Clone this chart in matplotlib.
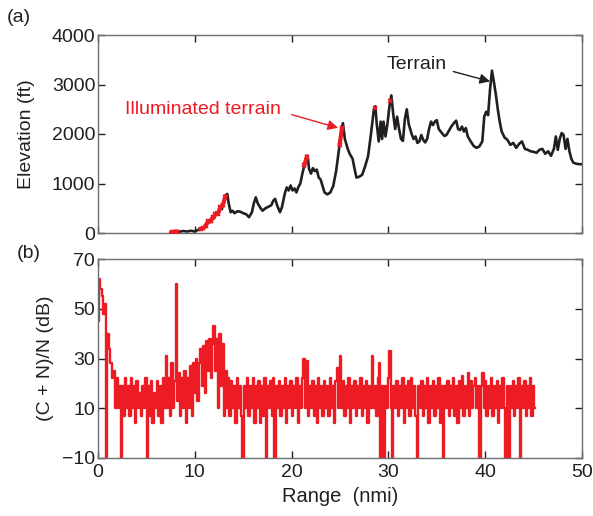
import numpy as np
import matplotlib
matplotlib.use('Agg')
from matplotlib import pyplot as plt

plt.rcParams['font.family'] = ['Liberation Sans', 'DejaVu Sans']

RED = '#ed1c24'
INK = '#231f20'
SPINE = '#6d6e71'
FS = 14

# 地形剖面 (nmi, ft)
terrain_range = [
    7.5, 7.7, 8.0, 8.4, 8.8, 9.2, 9.6, 10.0, 10.3, 10.6, 10.9, 11.2, 11.4, 11.6, 11.8,
    12.0, 12.2, 12.4, 12.6, 12.8, 13.0, 13.2, 13.35, 13.5, 13.7, 13.9, 14.1, 14.4, 14.7,
    15.0, 15.3, 15.6, 15.9, 16.1, 16.3, 16.5, 16.8, 17.0, 17.3, 17.6, 17.9, 18.1, 18.3,
    18.5, 18.8, 19.0, 19.3, 19.5, 19.7, 19.9, 20.1, 20.3, 20.5, 20.7, 20.9, 21.1, 21.3,
    21.5, 21.65, 21.8, 22.0, 22.2, 22.4, 22.6, 22.8, 23.0, 23.2, 23.4, 23.7, 24.0, 24.3,
    24.6, 24.9, 25.1, 25.3, 25.5, 25.8, 26.0, 26.3, 26.5, 26.7, 26.9, 27.1, 27.3, 27.6,
    27.9, 28.2, 28.5, 28.65, 28.8, 29.0, 29.2, 29.35, 29.5, 29.7, 29.9, 30.1, 30.3, 30.5,
    30.7, 30.9, 31.1, 31.3, 31.5, 31.7, 31.9, 32.1, 32.4, 32.6, 32.8, 33.0, 33.2, 33.4,
    33.6, 33.8, 34.0, 34.2, 34.4, 34.6, 34.8, 35.0, 35.2, 35.4, 35.6, 35.8, 36.0, 36.2,
    36.5, 36.8, 37.0, 37.2, 37.4, 37.6, 37.8, 38.0, 38.2, 38.5, 38.8, 39.1, 39.4, 39.7,
    39.9, 40.1, 40.3, 40.5, 40.7, 40.9, 41.1, 41.3, 41.5, 41.7, 42.0, 42.3, 42.6, 42.9,
    43.2, 43.5, 43.8, 44.1, 44.4, 44.7, 45.0, 45.3, 45.6, 45.9, 46.2, 46.5, 46.8, 47.1,
    47.3, 47.5, 47.7, 47.9, 48.1, 48.3, 48.5, 48.7, 48.9, 49.1, 49.4, 49.7, 50.0]
terrain_elev = [
    0, 20, 30, 25, 40, 30, 45, 30, 60, 80, 100, 150, 260, 220, 330,
    300, 420, 380, 540, 480, 650, 760, 790, 600, 420, 450, 400, 440, 430,
    400, 380, 320, 420, 600, 720, 600, 500, 450, 500, 530, 560, 650, 690,
    560, 420, 520, 800, 920, 860, 960, 860, 900, 820, 930, 1000, 1190, 1350,
    1520, 1560, 1300, 1200, 1310, 1250, 1280, 1120, 1080, 950, 820, 780, 820, 950,
    1250, 1700, 2000, 2220, 1900, 1700, 1600, 1500, 1300, 1120, 1130, 1150, 1180, 1350,
    1550, 2000, 2500, 2560, 2200, 1850, 2250, 1900, 2250, 1950, 2200, 2550, 2780, 2400,
    2100, 2350, 2100, 1900, 1860, 2300, 2500, 2200, 2000, 1900, 1950, 1820, 1850, 1980,
    1880, 1830, 1900, 2100, 2250, 2180, 2250, 2280, 2100, 2050, 2000, 1960, 1980, 2050,
    2150, 2230, 2270, 2100, 2080, 2150, 2050, 2120, 1950, 1850, 1760, 1720, 1750, 1850,
    2350, 2450, 2380, 2900, 3280, 3050, 2800, 2500, 2250, 2050, 1930, 1880, 1780, 1820,
    1720, 1800, 1850, 1700, 1680, 1650, 1640, 1620, 1680, 1700, 1600, 1650, 1560, 1700,
    1950, 1680, 1900, 2020, 1980, 1700, 1900, 1650, 1500, 1420, 1400, 1390, 1390]

# 被照射的地形区间 (nmi)
lit_spans = [(7.6, 8.3), (10.6, 13.35), (21.3, 21.7), (24.95, 25.35),
             (28.55, 28.7), (30.2, 30.35)]

# 信噪比 (dB), 每 0.15 nmi 一个点
snr_step = 0.15
snr_db = [
    45, 62, 58, 55, 48, 52, -10, 40, 34, 28, 22, 25, 10, 22, 10, 19, -10, 19, 7, 22,
    10, 19, 7, 22, 10, 19, 4, 21, 10, 16, 7, 19, 10, 22, -10, 19, 7, 21, 4, 16,
    10, 21, 7, 19, 4, 22, 10, 31, 10, 22, 7, 28, 10, 21, 60, 13, 24, 7, 22, 10,
    25, 4, 22, 10, 27, 7, 28, 16, 30, 13, 28, 34, 19, 35, 16, 37, 25, 38, 22, 36,
    43, 25, 38, 10, 40, 19, 36, 7, 25, 10, 22, 7, 21, 10, 19, 4, 22, 10, 19, 7,
    -10, 19, 10, 22, 7, 19, 10, 22, 4, 19, 10, 21, 4, 19, 7, 22, -10, 19, 10, 21,
    7, 22, -10, 19, 10, 21, 7, 19, 10, 22, 4, 19, 10, 21, 7, 19, 10, 22, 4, 19,
    10, 22, 30, 10, 29, 7, 19, 10, 21, 7, 19, 4, 22, 10, 19, 7, 21, 10, 19, 7,
    22, 10, 19, 4, 21, 26, 10, 31, 10, 21, 7, 19, 10, 22, 4, 19, 10, 21, 7, 19,
    10, 22, 7, 19, 10, 21, 4, 19, 10, 31, 10, 19, 7, 22, 28, -10, 19, -10, 19, 10,
    22, 33, 10, -10, 19, 10, 21, 7, 19, 10, 22, 4, 19, 10, 21, 7, 22, 10, 19, 7,
    -10, 19, 10, 21, 7, 19, 10, 22, 4, 19, 10, 21, 7, 19, 10, 22, 4, 19, -10, 19,
    10, 21, 7, 19, 10, 22, 7, 19, 4, 21, 10, 23, 7, 19, 10, 24, 7, 21, 10, 19,
    22, 10, 19, -10, 19, 24, 10, 21, 7, 19, 10, 22, 7, 19, 10, 21, 4, 19, 10, 22,
    10, -10, 19, -10, 19, 10, 21, 7, 19, 10, 22, -10, 19, 10, 21, 7, 19, 10, 22, 7,
    19, 10]

x_ticks = [0, 10, 20, 30, 40, 50]
elev_ticks = [0, 1000, 2000, 3000, 4000]
snr_ticks = [-10, 10, 30, 50, 70]


def style_axes(ax):
    for s in ax.spines.values():
        s.set_color(SPINE)
        s.set_linewidth(1.0)
    ax.tick_params(direction='in', top=True, right=True, length=5, width=1,
                   color=INK, labelsize=FS, labelcolor=INK, pad=2)
    ax.tick_params(axis='x', pad=4)


fig = plt.figure(figsize=(5.93, 5.16), dpi=100)
ax1 = fig.add_axes([98 / 593, 1 - 233 / 516, 484 / 593, 198 / 516])
ax2 = fig.add_axes([98 / 593, 1 - 458 / 516, 484 / 593, 199 / 516])

# (a) 地形
tr = np.array(terrain_range)
te = np.array(terrain_elev)
ax1.plot(tr, te, color=INK, lw=1.9, zorder=2)
fine_x = np.linspace(tr[0], tr[-1], 2000)
fine_y = np.interp(fine_x, tr, te)
for a, b in lit_spans:
    m = (fine_x >= a) & (fine_x <= b)
    ax1.plot(fine_x[m][::12], fine_y[m][::12], color=RED, lw=3, marker='x',
             ms=3.5, mew=1.2, zorder=3)
ax1.set_xlim(0, 50)
ax1.set_ylim(0, 4000)
ax1.set_xticks(x_ticks)
ax1.set_xticklabels([])
ax1.set_yticks(elev_ticks)
ax1.set_ylabel('Elevation (ft)', fontsize=FS, color=INK, labelpad=12)
style_axes(ax1)

ax1.text(2.8, 2492, 'Illuminated terrain', color=RED, fontsize=FS,
         va='center', ha='left')
ax1.annotate('', xy=(24.8, 2124), xytext=(20.0, 2392),
             arrowprops=dict(arrowstyle='-|>', color=RED, lw=1,
                             mutation_scale=15, shrinkA=0, shrinkB=0))
ax1.text(29.8, 3397, 'Terrain', color=INK, fontsize=FS, va='center', ha='left')
ax1.annotate('', xy=(40.5, 3062), xytext=(36.7, 3262),
             arrowprops=dict(arrowstyle='-|>', color=INK, lw=1,
                             mutation_scale=15, shrinkA=0, shrinkB=0))

# (b) 信噪比
snr_x = np.arange(len(snr_db)) * snr_step
ax2.plot(snr_x, snr_db, color=RED, lw=1.7, drawstyle='steps-mid')
ax2.set_xlim(0, 50)
ax2.set_ylim(-10, 70)
ax2.set_xticks(x_ticks)
ax2.set_yticks(snr_ticks)
ax2.set_ylabel('(C + N)/N (dB)', fontsize=FS, color=INK, labelpad=6)
ax2.set_xlabel('Range  (nmi)', fontsize=14.5, color=INK, labelpad=5)
style_axes(ax2)

fig.text(7 / 593, 1 - 18 / 516, '(a)', fontsize=FS, color=INK, va='center')
fig.text(17 / 593, 1 - 254 / 516, '(b)', fontsize=FS, color=INK, va='center')

fig.savefig('out.png', dpi=100)
